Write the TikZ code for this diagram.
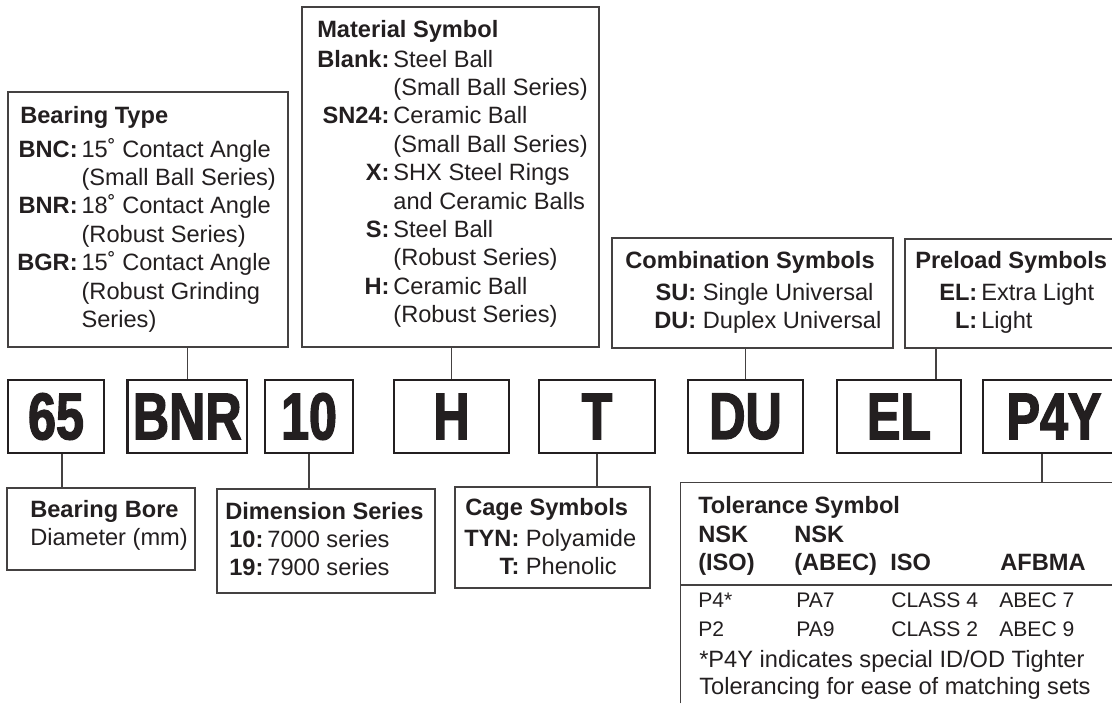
\documentclass[tikz,border=0pt]{standalone}
\usepackage{fontspec}
\setmainfont{Liberation Sans}
\newfontfamily\codefont{Liberation Sans}[FakeStretch=0.76,FakeBold=2]
\usetikzlibrary{calc}

\begin{document}
\begin{tikzpicture}[x=0.025cm, y=-0.025cm,
  codebox/.style={draw=ink, line width=2pt, inner sep=0pt, minimum height=1.825cm,
    text=ink, font=\codefont\bfseries\fontsize{47}{47}\selectfont},
  infobox/.style={draw=ink!85, line width=0.95pt, inner sep=0pt},
  link/.style={draw=ink!85, line width=0.95pt},
  txt/.style={anchor=base west, inner sep=0pt, text=ink, font=\fontsize{16.8}{20.2}\selectfont},
  head/.style={txt, font=\bfseries\fontsize{16.8}{20.2}\selectfont}]

% Colors
\definecolor{ink}{RGB}{35,31,32}

% Frame
\useasboundingbox (0,0) rectangle (1112,713);
\clip (0,0) rectangle (1112,713);

% Boxes above the code
\node[infobox, minimum width=7cm, minimum height=6.375cm] (type) at (148,219.5) {};
\node[infobox, minimum width=7.425cm, minimum height=8.5cm] (material) at (450.5,177) {};
\node[infobox, minimum width=7.025cm, minimum height=2.75cm] (comb) at (752.5,293) {};
\node[infobox, minimum width=6cm, minimum height=2.725cm] (preload) at (1025,293.5) {};

% The code itself
\node[codebox, minimum width=2.4cm] (c65) at (56,416.5) {65};
\node[codebox, minimum width=2.99cm] (bnr) at (187.25,416.5) {BNR};
\node[codebox, minimum width=2.2cm] (c10) at (309,416.5) {10};
\node[codebox, minimum width=2.875cm] (h) at (451.5,416.5) {H};
\node[codebox, minimum width=2.9cm] (t) at (597,416.5) {T};
\node[codebox, minimum width=2.875cm] (du) at (745.5,416.5) {DU};
\node[codebox, minimum width=3.1cm] (el) at (899,416.5) {EL};
\node[codebox, minimum width=3.55cm] (p4y) at (1054,416.5) {P4Y};

% Boxes below the code
\node[infobox, minimum width=4.7cm, minimum height=2.05cm] (bore) at (101,529) {};
\node[infobox, minimum width=5.45cm, minimum height=2.6cm] (dim) at (326,541) {};
\node[infobox, minimum width=4.875cm, minimum height=2.525cm] (cage) at (552.5,537.5) {};
\node[minimum width=11.1cm, minimum height=5.5cm, inner sep=0pt] (tol) at (903,593) {};
\draw[infobox] (tol.south west) -- (tol.north west) -- (tol.north east);
\draw[infobox] ($(tol.north west)!0.464!(tol.south west)$) -- ($(tol.north east)!0.464!(tol.south east)$);

% Connectors
\coordinate (boredown) at ($(c65.south)+(6,0)$);
\coordinate (elup) at ($(el.north)+(37,0)$);
\coordinate (toldown) at ($(p4y.south)+(-12,0)$);
\draw[link] (bnr.north) -- (bnr.north |- type.south);
\draw[link] (h.north) -- (h.north |- material.south);
\draw[link] (du.north) -- (du.north |- comb.south);
\draw[link] (elup) -- (elup |- preload.south);
\draw[link] (boredown) -- (boredown |- bore.north);
\draw[link] (c10.south) -- (c10.south |- dim.north);
\draw[link] (t.south) -- (t.south |- cage.north);
\draw[link] (toldown) -- (toldown |- tol.north);

% Bearing type
\node[head] (typetitle) at (20,123) {Bearing Type};
\node[txt] (typelist) at (17,157) {\begin{tabular}[t]{@{}r@{\,}l@{}}
  \bfseries BNC: & 15˚ Contact Angle\\
  & (Small Ball Series)\\
  \bfseries BNR: & 18˚ Contact Angle\\
  & (Robust Series)\\
  \bfseries BGR: & 15˚ Contact Angle\\
  & (Robust Grinding\\
  & Series)
\end{tabular}};

% Material
\node[head] (mattitle) at (317,37) {Material Symbol};
\node[txt] (matlist) at (317,67) {\begin{tabular}[t]{@{}r@{\,}l@{}}
  \bfseries Blank: & Steel Ball\\
  & (Small Ball Series)\\
  \bfseries SN24: & Ceramic Ball\\
  & (Small Ball Series)\\
  \bfseries X: & SHX Steel Rings\\
  & and Ceramic Balls\\
  \bfseries S: & Steel Ball\\
  & (Robust Series)\\
  \bfseries H: & Ceramic Ball\\
  & (Robust Series)
\end{tabular}};

% Combination and preload
\node[head] (combtitle) at (625,268) {Combination Symbols};
\node[txt] (comblist) at (654,300) {\begin{tabular}[t]{@{}r@{\ }l@{}}
  \bfseries SU: & Single Universal\\
  \bfseries DU: & Duplex Universal
\end{tabular}};
\node[head] (pretitle) at (915,268) {Preload Symbols};
\node[txt] (prelist) at (939,300) {\begin{tabular}[t]{@{}r@{\,}l@{}}
  \bfseries EL: & Extra Light\\
  \bfseries L: & Light
\end{tabular}};

% Bore, dimension, cage
\node[head] (boretitle) at (30,517) {Bearing Bore};
\node[txt] (boretext) at (30,545) {Diameter (mm)};
\node[head] (dimtitle) at (225,519) {Dimension Series};
\node[txt] (dimlist) at (229,547) {\begin{tabular}[t]{@{}r@{\,}l@{}}
  \bfseries 10: & 7000 series\\
  \bfseries 19: & 7900 series
\end{tabular}};
\node[head] (cagetitle) at (465,515) {Cage Symbols};
\node[txt] (cagelist) at (464,546) {\begin{tabular}[t]{@{}r@{\ }l@{}}
  \bfseries TYN: & Polyamide\\
  \bfseries T: & Phenolic
\end{tabular}};

% Tolerance
\node[head] (toltitle) at (698,513) {Tolerance Symbol};
\node[head] (tolhead) at (698,542) {\begin{tabular}[t]{@{}p{2.4cm}@{}p{2.4cm}@{}p{2.75cm}@{}l@{}}
  NSK & NSK & & \\
  (ISO) & (ABEC) & ISO & AFBMA
\end{tabular}};
\node[txt, font=\fontsize{15}{21.3}\selectfont] (tolrows) at (698,607) {\begin{tabular}[t]{@{}p{2.45cm}@{}p{2.375cm}@{}p{2.7cm}@{}l@{}}
  P4* & PA7 & CLASS 4 & ABEC 7\\
  P2 & PA9 & CLASS 2 & ABEC 9
\end{tabular}};
\node[txt, font=\fontsize{16.8}{19.9}\selectfont] (tolnote) at (699,667) {\begin{tabular}[t]{@{}l@{}}
  *P4Y indicates special ID/OD Tighter\\
  Tolerancing for ease of matching sets
\end{tabular}};
\end{tikzpicture}
\end{document}
